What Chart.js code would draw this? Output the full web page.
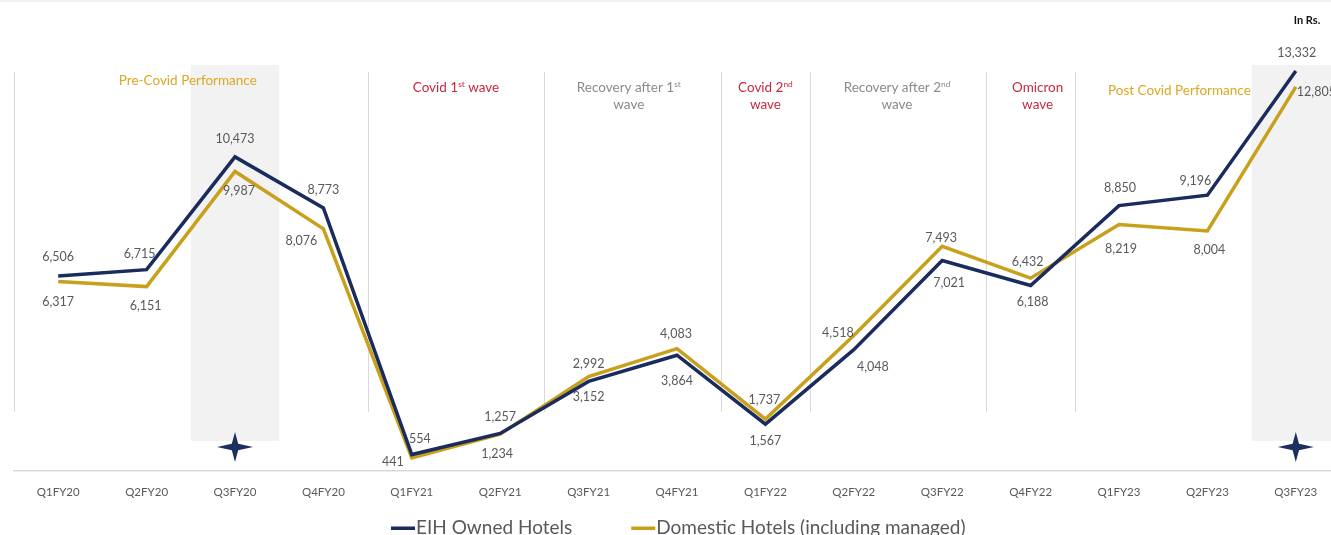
<!DOCTYPE html>
<html>
<head>
<meta charset="utf-8">
<script src="https://cdn.jsdelivr.net/npm/chart.js@4.4.0/dist/chart.umd.min.js"></script>
<style>
  html, body { margin: 0; padding: 0; background: #fff; overflow: hidden; }
  #wrap { position: relative; width: 1345px; height: 535px; border-top: 2px solid #f0f0f0; box-sizing: border-box; }
</style>
</head>
<body>
<div id="wrap"><canvas id="revChart"></canvas></div>
<script>
// quarterly revenue figures (Rs.)
const quarters = ["Q1FY20", "Q2FY20", "Q3FY20", "Q4FY20", "Q1FY21", "Q2FY21", "Q3FY21", "Q4FY21",
                  "Q1FY22", "Q2FY22", "Q3FY22", "Q4FY22", "Q1FY23", "Q2FY23", "Q3FY23"];
const eihOwned = [6506, 6715, 10473, 8773, 554, 1257, 2992, 3864, 1567, 4048, 7021, 6188, 8850, 9196, 13332];
const domestic = [6317, 6151, 9987, 8076, 441, 1234, 3152, 4083, 1737, 4518, 7493, 6432, 8219, 8004, 12805];

// highlighted quarters (shaded column + star)
const highlighted = ["Q3FY20", "Q3FY23"];
// phases across the timeline; ^..^ marks superscript
const phases = [
  { from: 0, to: 3, lines: ["Pre-Covid Performance"], kind: "good" },
  { from: 4, to: 5, lines: ["Covid 1^st^ wave"], kind: "wave" },
  { from: 6, to: 7, lines: ["Recovery after 1^st^", "wave"], kind: "recovery" },
  { from: 8, to: 8, lines: ["Covid 2^nd^", "wave"], kind: "wave" },
  { from: 9, to: 10, lines: ["Recovery after 2^nd^", "wave"], kind: "recovery" },
  { from: 11, to: 11, lines: ["Omicron", "wave"], kind: "wave" },
  { from: 12, to: 14, lines: ["Post Covid Performance"], kind: "good" }
];

const NAVY = "#1a2b5e";
const GOLD = "#c9a01b";
const LABEL_GREY = "#595959";
const phaseColors = { good: "#dca823", wave: "#c52a3e", recovery: "#8a8a8a" };
const phaseNudge = [[-3, 79], [0, 86], [-4, 86], [0, 86], [-1, 86], [7, 86], [-28, 89]];

// where each value label sits relative to its point
const eihLabelPos = [[0, -19], [-7, -16], [0, -18], [0, -18], [8, -16], [0, -17], [0, -17], [0, 26],
                     [0, 17], [19, 17], [7, 22], [2, 16], [1, -18], [-12, -14], [1, -18]];
const domLabelPos = [[0, 20], [-1, 19], [4, 20], [-22, 12], [-19, 4], [-3, 20], [0, 20], [-1, -15],
                     [-1, -19], [-16, -3], [-1, -8], [-3, -16], [2, 24], [2, 19], [17, 5]];

const FONT = "Lato, 'Open Sans', sans-serif";

function drawRich(ctx, str, cx, cy, size, color) {
  const parts = str.split("^");
  let total = 0;
  parts.forEach((p, i) => {
    ctx.font = (i % 2 ? size * 0.62 : size) + "px " + FONT;
    total += ctx.measureText(p).width;
  });
  let x = cx - total / 2;
  ctx.fillStyle = color;
  ctx.textAlign = "left";
  ctx.textBaseline = "middle";
  parts.forEach((p, i) => {
    const sup = i % 2 === 1;
    ctx.font = (sup ? size * 0.62 : size) + "px " + FONT;
    ctx.fillText(p, x, sup ? cy - size * 0.3 : cy);
    x += ctx.measureText(p).width;
  });
}

function drawStar(ctx, x, y, rx, ry, inner) {
  ctx.beginPath();
  ctx.moveTo(x, y - ry);
  ctx.lineTo(x + inner, y - inner);
  ctx.lineTo(x + rx, y);
  ctx.lineTo(x + inner, y + inner);
  ctx.lineTo(x, y + ry);
  ctx.lineTo(x - inner, y + inner);
  ctx.lineTo(x - rx, y);
  ctx.lineTo(x - inner, y - inner);
  ctx.closePath();
  ctx.fill();
}

const timelineDecor = {
  id: "timelineDecor",
  beforeDatasetsDraw(chart) {
    const { ctx, scales: { x } } = chart;
    const step = x.getPixelForValue(1) - x.getPixelForValue(0);
    ctx.save();
    // shaded columns + stars
    highlighted.forEach(q => {
      const cx = x.getPixelForValue(quarters.indexOf(q));
      ctx.fillStyle = "#f2f2f2";
      ctx.fillRect(cx - step / 2, 63, step, 376);
      ctx.fillStyle = "#1d2f5f";
      drawStar(ctx, cx, 445, 18, 15, 3.2);
    });
    // phase dividers
    ctx.strokeStyle = "#d9d9d9";
    ctx.lineWidth = 1;
    phases.forEach(ph => {
      const px = Math.round(x.getPixelForValue(ph.from) - step / 2) + 0.5;
      ctx.beginPath();
      ctx.moveTo(px, 70);
      ctx.lineTo(px, 410);
      ctx.stroke();
    });
    // phase titles
    phases.forEach((ph, i) => {
      const cx = (x.getPixelForValue(ph.from) + x.getPixelForValue(ph.to)) / 2 + phaseNudge[i][0];
      ph.lines.forEach((ln, j) => drawRich(ctx, ln, cx, phaseNudge[i][1] + j * 17, 13.5, phaseColors[ph.kind]));
    });
    ctx.restore();
  },
  afterDatasetsDraw(chart) {
    const { ctx } = chart;
    ctx.save();
    ctx.font = "12.5px " + FONT;
    ctx.fillStyle = LABEL_GREY;
    ctx.textBaseline = "middle";
    const offsets = [eihLabelPos, domLabelPos];
    chart.data.datasets.forEach((ds, di) => {
      chart.getDatasetMeta(di).data.forEach((pt, i) => {
        const [dx, dy] = offsets[di][i];
        const txt = ds.data[i].toLocaleString("en-US");
        ctx.textAlign = (di === 1 && i === ds.data.length - 1) ? "left" : "center";
        const tx = ctx.textAlign === "left" ? pt.x + 1 : pt.x + dx;
        ctx.fillText(txt, tx, pt.y + dy);
      });
    });
    // unit note
    ctx.font = "bold 11px " + FONT;
    ctx.fillStyle = "#111";
    ctx.textAlign = "center";
    ctx.fillText("In Rs.", 1307, 18);

    // legend
    ctx.font = "19px " + FONT;
    ctx.textAlign = "left";
    const items = chart.data.datasets.map(ds => ({ text: ds.label, color: ds.borderColor }));
    const gap = 58;
    const widths = items.map(it => 26 + ctx.measureText(it.text).width);
    let lx = 391;
    const ly = 526;
    items.forEach((it, i) => {
      ctx.fillStyle = it.color;
      ctx.fillRect(lx, ly - 1.5, 24, 3.5);
      ctx.fillStyle = LABEL_GREY;
      ctx.fillText(it.text, lx + 25, ly);
      lx += widths[i] + gap;
    });
    ctx.restore();
  }
};

new Chart(document.getElementById("revChart").getContext("2d"), {
  type: "line",
  data: {
    labels: quarters,
    datasets: [
      {
        label: "EIH Owned Hotels",
        data: eihOwned,
        borderColor: NAVY,
        backgroundColor: NAVY,
        borderWidth: 3.5,
        pointRadius: 0,
        tension: 0
      },
      {
        label: "Domestic Hotels (including managed)",
        data: domestic,
        borderColor: GOLD,
        backgroundColor: GOLD,
        borderWidth: 3.5,
        pointRadius: 0,
        tension: 0
      }
    ]
  },
  options: {
    responsive: true,
    maintainAspectRatio: false,
    animation: false,
    layout: { padding: { top: 19, left: 14, right: 5, bottom: 30 } },
    plugins: {
      legend: { display: false },
      tooltip: { enabled: false }
    },
    scales: {
      x: {
        offset: true,
        grid: { display: false },
        border: { color: "#d9d9d9", width: 1.5 },
        ticks: { color: LABEL_GREY, font: { family: FONT, size: 11.5 }, padding: 6, autoSkip: false, maxRotation: 0 }
      },
      y: {
        display: false,
        min: 0,
        max: 15000
      }
    }
  },
  plugins: [timelineDecor]
});
</script>
</body>
</html>
